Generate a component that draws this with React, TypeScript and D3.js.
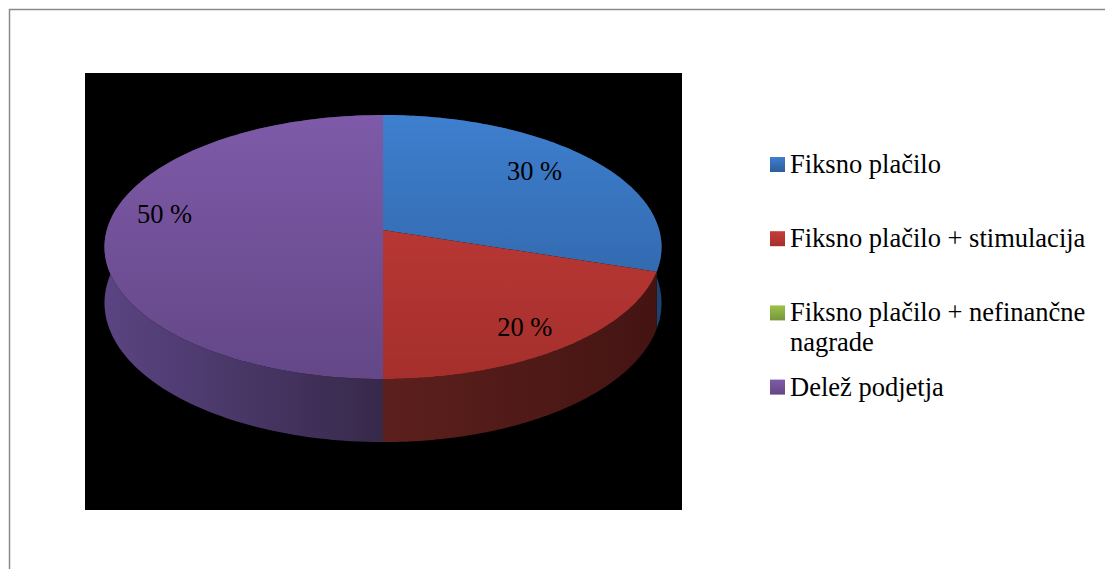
import React from "react";
import * as d3 from "d3";

const categories = [
  "Fiksno plačilo",
  "Fiksno plačilo + stimulacija",
  "Fiksno plačilo + nefinančne nagrade",
  "Delež podjetja",
];
const values = [30, 20, 0, 50];
const valueLabels = ["30 %", "20 %", "0 %", "50 %"];
const topColors = [
  ["#3e7fcf", "#2c5d9b"],
  ["#c63d3a", "#a52f2c"],
  ["#9bc24a", "#76963a"],
  ["#7e5aa8", "#634787"],
];
const sideColors = [
  ["#2a568f", "#1f4170"],
  ["#5c201d", "#441412"],
  ["#5f7a2c", "#4a5f22"],
  ["#5a4482", "#37294a"],
];

const W = 1105;
const H = 569;
const FONT = "'Liberation Serif', 'DejaVu Serif', serif";

// projection of the pie disk
const CX = 383, CY = 230, A = 276.2, B = 129.8, K = 0.1288, D0 = 55;
function proj(theta: number, f = 1): [number, number, number] {
  const u = f * Math.sin(theta);
  const v = -f * Math.cos(theta);
  const den = 1 - K * v;
  return [CX + (A * u) / den, CY + (B * v) / den, D0 / den];
}

function arcPts(a0: number, a1: number, n = 120) {
  const pts: [number, number, number][] = [];
  for (let i = 0; i <= n; i++) pts.push(proj(a0 + ((a1 - a0) * i) / n));
  return pts;
}

function wrap(text: string, maxChars: number) {
  const words = text.split(" ");
  const lines: string[] = [];
  let cur = "";
  for (const w of words) {
    const next = cur ? cur + " " + w : w;
    if (next.length > maxChars && cur) {
      lines.push(cur);
      cur = w;
    } else cur = next;
  }
  if (cur) lines.push(cur);
  return lines;
}

// small label placement corrections (dx, dy) per slice
const labelNudge: [number, number][] = [[-13, -3], [4, 8], [0, 0], [-3, -16]];

export default function App() {
  const pie = d3.pie<number>().sort(null).startAngle(0).endAngle(2 * Math.PI);
  const arcs = pie(values);
  const line = d3.line();

  const walls = arcs
    .map((a, i) => ({ a, i }))
    .filter(({ a }) => a.endAngle - a.startAngle > 0)
    .map(({ a, i }) => {
      const top = arcPts(a.startAngle, a.endAngle);
      const bottom = top.map(([x, y, d]) => [x, y + d] as [number, number]).reverse();
      const pts = [...top.map(([x, y]) => [x, y] as [number, number]), ...bottom];
      return { i, d: line(pts) + "Z" };
    });

  const tops = arcs
    .map((a, i) => ({ a, i }))
    .filter(({ a }) => a.endAngle - a.startAngle > 0)
    .map(({ a, i }) => {
      const pts = arcPts(a.startAngle, a.endAngle).map(([x, y]) => [x, y] as [number, number]);
      return { i, d: line([[CX, CY], ...pts]) + "Z" };
    });

  const labels = arcs
    .map((a, i) => ({ a, i }))
    .filter(({ a }) => a.endAngle - a.startAngle > 0)
    .map(({ a, i }) => {
      const mid = (a.startAngle + a.endAngle) / 2;
      const [x, y] = proj(mid, 0.78);
      return { i, x: x + labelNudge[i][0], y: y + labelNudge[i][1] };
    });

  const legendX = 770;
  const legendY0 = 173;
  const legendStep = 74.2;

  return (
    <svg
      width={W}
      height={H}
      style={{ position: "absolute", left: 0, top: 0, background: "#fff" }}
      fontFamily={FONT}
    >
      <defs>
        {topColors.map((c, i) => (
          <linearGradient key={"t" + i} id={"top" + i} gradientUnits="userSpaceOnUse" x1="0" y1="115" x2="0" y2="379">
            <stop offset="0" stopColor={c[0]} />
            <stop offset="1" stopColor={c[1]} />
          </linearGradient>
        ))}
        {sideColors.map((c, i) => (
          <linearGradient
            key={"s" + i}
            id={"side" + i}
            gradientUnits="userSpaceOnUse"
            x1={i === 3 ? 104 : 383}
            y1="0"
            x2={i === 3 ? 383 : 661}
            y2="0"
          >
            <stop offset="0" stopColor={c[0]} />
            <stop offset="1" stopColor={c[1]} />
          </linearGradient>
        ))}
        {topColors.map((c, i) => (
          <linearGradient key={"l" + i} id={"leg" + i} x1="0" y1="0" x2="0" y2="1">
            <stop offset="0" stopColor={c[0]} />
            <stop offset="1" stopColor={c[1]} />
          </linearGradient>
        ))}
      </defs>
      <rect x={9.5} y={9.5} width={1200} height={700} fill="#fff" stroke="#8a8a8a" strokeWidth={1.5} />
      <rect x={85} y={73} width={597} height={437} fill="#000" />
      {walls.map((w) => (
        <path key={"w" + w.i} d={w.d} fill={`url(#side${w.i})`} />
      ))}
      {tops.map((t) => (
        <path key={"tp" + t.i} d={t.d} fill={`url(#top${t.i})`} />
      ))}
      {labels.map((l) => (
        <text
          key={"lb" + l.i}
          x={l.x}
          y={l.y}
          textAnchor="middle"
          dominantBaseline="central"
          fontSize={26.5}
          fill="#000"
        >
          {valueLabels[l.i]}
        </text>
      ))}
      {categories.map((c, i) => {
        const by = legendY0 + i * legendStep;
        const lines = wrap(c, 28);
        return (
          <g key={"lg" + i}>
            <rect x={legendX} y={by - 16} width={15} height={15} fill={`url(#leg${i})`} />
            <text x={legendX + 20} y={by} fontSize={26.5} fill="#000">
              {lines.map((ln, j) => (
                <tspan key={j} x={legendX + 20} dy={j === 0 ? 0 : 30}>
                  {ln}
                </tspan>
              ))}
            </text>
          </g>
        );
      })}
    </svg>
  );
}
